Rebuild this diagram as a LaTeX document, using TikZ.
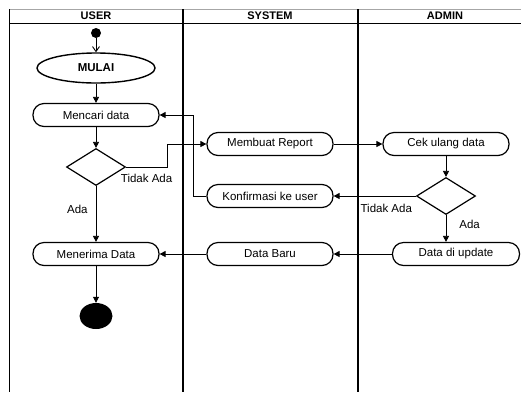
\documentclass[tikz,border=0pt]{standalone}
\usepackage{fontspec}
\setmainfont{Liberation Sans}
\usetikzlibrary{shapes.geometric,positioning,arrows.meta}
\tikzset{
  actbox/.style={draw,rounded corners=11pt,minimum width=126pt,minimum height=23pt,inner sep=1pt,line width=1.2pt,font=\fontsize{11.5}{13}\selectfont},
  decide/.style={draw,diamond,minimum width=59pt,minimum height=37pt,inner sep=0pt,line width=1.2pt},
  flow/.style={draw,-{Triangle[length=6pt,width=6pt]},line width=0.8pt},
  lane/.style={draw,line width=1.5pt},
  hdr/.style={font=\fontsize{11}{12}\selectfont\bfseries,inner sep=0pt},
  lbl/.style={font=\fontsize{11.5}{13}\selectfont,inner sep=1pt},
}
\begin{document}
\begin{tikzpicture}[x=1pt,y=-1pt]
\useasboundingbox (0,0) rectangle (521,392);

% swimlanes
\draw[gray!70,line width=1pt] (9,9) -- (521,9);
\draw[line width=0.9pt] (9,23) -- (521,23);
\draw[line width=0.8pt] (9,9) -- (9,392);
\draw[lane] (183,9) -- (183,392);
\draw[lane] (358,9) -- (358,392);
\node[hdr] (huser) at (96,16) {USER};
\node[hdr] (hsystem) at (270,16) {SYSTEM};
\node[hdr] (hadmin) at (445,16) {ADMIN};

% user
\node[fill,circle,inner sep=0pt,minimum size=10pt] (start) at (96,33) {};
\node[draw,ellipse,line width=1.4pt,minimum width=118pt,minimum height=30pt,font=\fontsize{11.5}{13}\selectfont\bfseries] (mulai) at (96,68) {MULAI};
\node[actbox] (cari) at (96,115) {Mencari data};
\node[decide] (cek1) at (96,167) {};
\node[actbox] (terima) at (96,254) {Menerima Data};
\node[fill,ellipse,inner sep=0pt,minimum width=33pt,minimum height=26pt] (akhir) at (96,316) {};

% system
\node[actbox] (report) at (270,144) {Membuat Report};
\node[actbox] (konfirm) at (270,196) {Konfirmasi ke user};
\node[actbox] (baru) at (270,254) {Data Baru};

% admin
\node[actbox] (ulang) at (446,144) {Cek ulang data};
\node[decide] (cek2) at (446,196) {};
\node[actbox,minimum width=127pt] (update) at (456,254) {Data di update};

\draw[line width=0.9pt,-{Straight Barb[length=5pt,width=7pt]}] (start) -- (mulai.north);
\draw[flow] (mulai) -- (cari);
\draw[flow] (cari) -- (cek1);
\draw[flow] (cek1) -- node[lbl,left=7pt,pos=0.42] {Ada} (terima);
\draw[flow] (terima) -- (akhir);
\draw[flow] (cek1.east) -- node[lbl,below=6pt] {Tidak Ada} ++(41,0) |- (report.west);
\draw[flow] (report) -- (ulang);
\draw[flow] (ulang) -- (cek2);
\draw[flow] (cek2) -- node[lbl,below=7pt,pos=0.36] {Tidak Ada} (konfirm);
\draw[flow] (cek2.south) -- node[lbl,right=12pt,pos=0.35] {Ada} (cek2.south |- update.north);
\draw[flow] (konfirm.west) -- ++(-13,0) |- (cari.east);
\draw[flow] (update) -- (baru);
\draw[flow] (baru) -- (terima);

\end{tikzpicture}
\end{document}
